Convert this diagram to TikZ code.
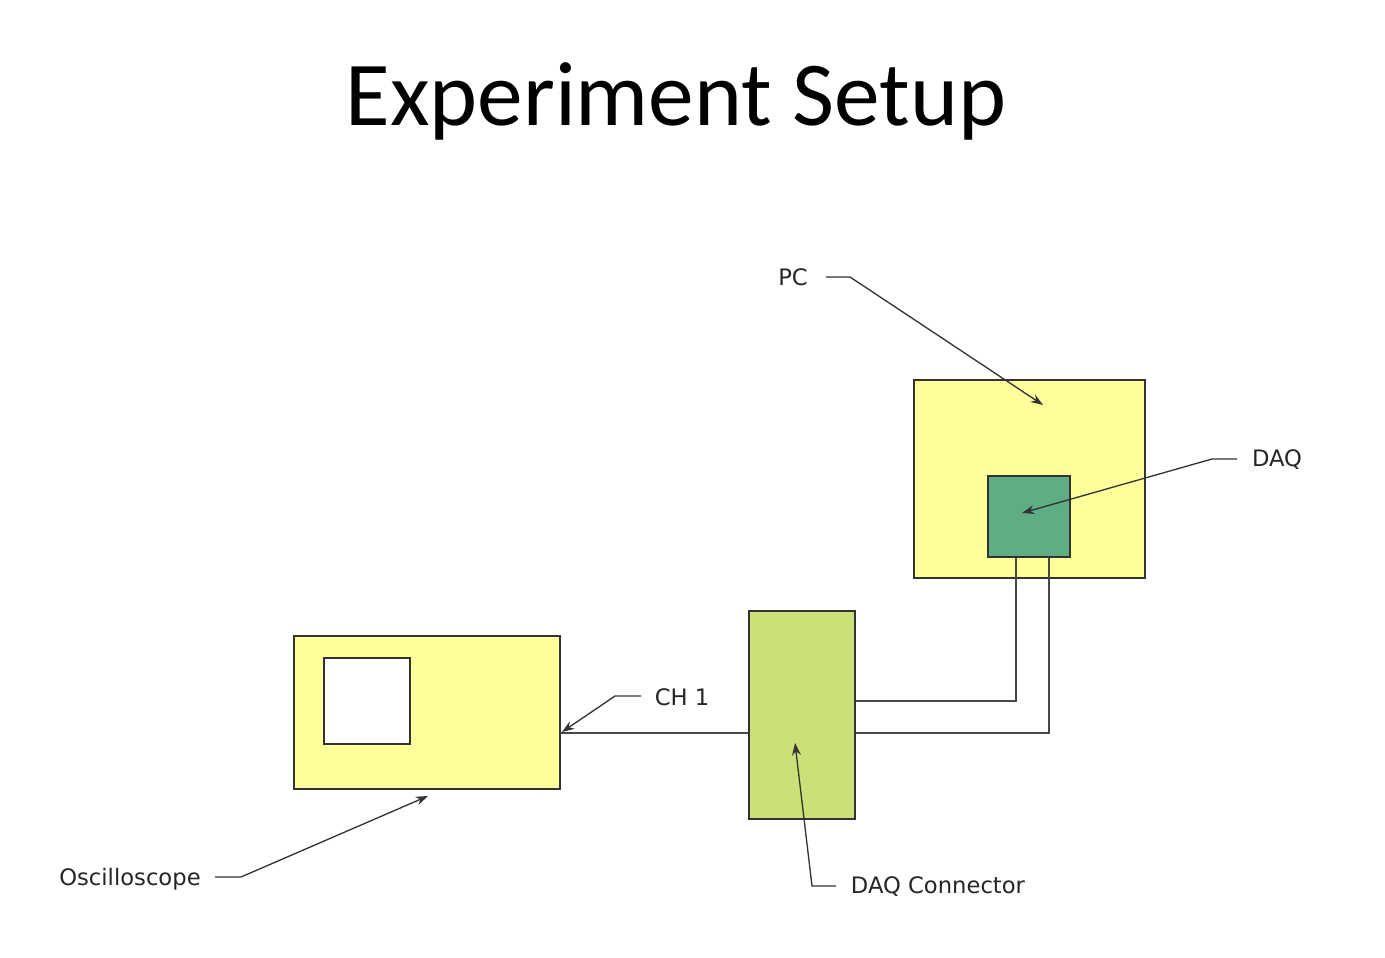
\documentclass[tikz,border=0pt]{standalone}
\usepackage{fontspec}
\setmainfont{DejaVu Sans}
\newfontfamily\titlefont{Carlito}
\usetikzlibrary{arrows.meta}
\definecolor{boxyellow}{HTML}{FFFF9C}
\definecolor{daqgreen}{HTML}{5FAD82}
\definecolor{conngreen}{HTML}{CCE07A}
\definecolor{edge}{HTML}{333333}
\definecolor{leadc}{HTML}{333333}
\tikzset{
  box/.style={draw=edge, line width=0.9pt, rectangle, inner sep=0pt, anchor=center},
  wire/.style={draw=edge!90!white, line width=0.9pt},
  leader/.style={draw=leadc, line width=0.75pt, -{Stealth[length=7pt,width=5pt]}},
  lbl/.style={font=\fontsize{12.9pt}{15pt}\selectfont, text=black!85, inner sep=0pt}
}
\begin{document}
\begin{tikzpicture}[x=0.02cm,y=-0.02cm]
\useasboundingbox[fill=white] (0,0) rectangle (1385,957);
\node[font=\titlefont\fontsize{52pt}{60pt}\selectfont, inner sep=0pt] (title) at (676,101) {Experiment Setup};

% boxes
\node[box, fill=boxyellow, minimum width=231*0.02cm, minimum height=198*0.02cm] (pc) at (1029.5,479) {};
\node[box, fill=daqgreen, minimum width=82*0.02cm, minimum height=81*0.02cm] (daq) at (1029,516.5) {};
\node[box, fill=boxyellow, minimum width=266*0.02cm, minimum height=153*0.02cm] (osc) at (427,712.5) {};
\node[box, fill=white, minimum width=86*0.02cm, minimum height=86*0.02cm] (screen) at (367,701) {};
\node[box, fill=conngreen, minimum width=106*0.02cm, minimum height=208*0.02cm] (conn) at (802,715) {};

% wires
\coordinate (w1) at (1016,701);
\coordinate (w2) at (1049,733);
\draw[wire] (daq.south -| w1) |- (conn.east |- w1);
\draw[wire] (daq.south -| w2) |- (conn.east |- w2);
\draw[wire] (conn.west |- w2) -- (osc.east |- w2);

% labels
\node[lbl] (lpc) at (793,277) {PC};
\node[lbl] (ldaq) at (1277,460) {DAQ};
\node[lbl] (lch) at (682,697) {CH 1};
\node[lbl] (losc) at (130,879) {Oscilloscope};
\node[lbl] (lconn) at (938,887) {DAQ Connector};

% leader coordinates
\coordinate (pcA) at (826,277);
\coordinate (pcB) at (850,277);
\coordinate (pcT) at (1043,405);
\coordinate (daqA) at (1237,459);
\coordinate (daqB) at (1212,459);
\coordinate (daqT) at (1022,513);
\coordinate (chA) at (641,696);
\coordinate (chB) at (615,696);
\coordinate (chT) at (562,732);
\coordinate (oscA) at (215,877);
\coordinate (oscB) at (241,877);
\coordinate (oscT) at (428,796);
\coordinate (cnA) at (836,886);
\coordinate (cnB) at (812,886);
\coordinate (cnT) at (795,743);

\draw[leader] (pcA) -- (pcB) -- (pcT);
\draw[leader] (daqA) -- (daqB) -- (daqT);
\draw[leader] (chA) -- (chB) -- (chT);
\draw[leader] (oscA) -- (oscB) -- (oscT);
\draw[leader] (cnA) -- (cnB) -- (cnT);
\end{tikzpicture}
\end{document}
